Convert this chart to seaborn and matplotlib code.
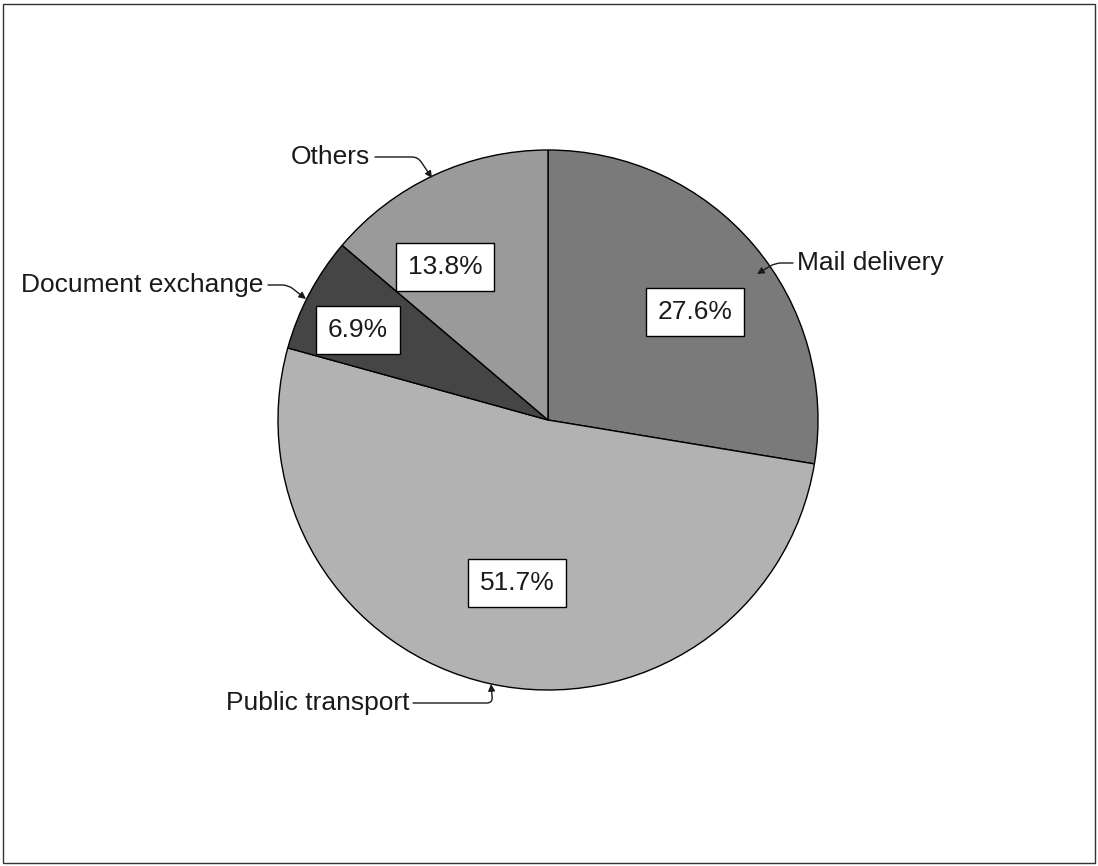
import matplotlib
matplotlib.use("Agg")
import matplotlib.pyplot as plt
import matplotlib.patches as mpatches
import seaborn as sns

categories = ["Mail delivery", "Public transport", "Document exchange", "Others"]
values = [27.6, 51.7, 6.9, 13.8]
pct_labels = ["27.6%", "51.7%", "6.9%", "13.8%"]
colors = ["#7a7a7a", "#b2b2b2", "#454545", "#9a9a9a"]

sns.set_theme(style="white")
plt.rcParams["font.family"] = ["Liberation Sans", "DejaVu Sans"]

W, H = 1098, 866
fig = plt.figure(figsize=(W / 100, H / 100), dpi=100)
ax = fig.add_axes([0, 0, 1, 1])
ax.set_xlim(0, W)
ax.set_ylim(0, H)
ax.set_aspect("equal")
ax.axis("off")

cx, cy, r = 548, H - 420, 270
wedges, _ = ax.pie(values, colors=colors, startangle=90, counterclock=False,
                   center=(cx, cy), radius=r,
                   wedgeprops=dict(edgecolor="black", linewidth=1.0))
ax.set_xlim(0, W)
ax.set_ylim(0, H)

fs = 19
box = dict(boxstyle="square,pad=0.44", facecolor="white", edgecolor="black", linewidth=1.0)
pct_pos = [(695, 312), (517, 583), (358, 330), (445, 267)]
for lab, (x, y) in zip(pct_labels, pct_pos):
    ax.text(x, H - y, lab, ha="center", va="center", fontsize=fs, color="#1a1a1a", bbox=box)

# outer labels with leader arrows
outer = {
    "Others": dict(text=(291, 157), ha="left", start=375, tip=(432, 178), angB=124),
    "Mail delivery": dict(text=(797, 263), ha="left", start=793, tip=(757, 274), angB=31),
    "Document exchange": dict(text=(263, 285), ha="right", start=268, tip=(306, 299), angB=142),
    "Public transport": dict(text=(410, 703), ha="right", start=413, tip=(491, 684), angB=95),
}
for name in categories:
    o = outer[name]
    tx, ty = o["text"]
    ax.text(tx, H - ty, name, ha=o["ha"], va="center", fontsize=fs, color="#1a1a1a")
    ax.annotate("", xy=(o["tip"][0], H - o["tip"][1]), xytext=(o["start"], H - ty),
                arrowprops=dict(arrowstyle="-|>", color="#1a1a1a", lw=1.0,
                                mutation_scale=10, shrinkA=0, shrinkB=0,
                                connectionstyle=f"angle,angleA=0,angleB={o['angB']},rad=6"))

fig.add_artist(mpatches.Rectangle((3 / W, 3 / H), (W - 6) / W, (H - 7) / H,
                                  transform=fig.transFigure, fill=False,
                                  edgecolor="#333333", linewidth=1.0))

fig.savefig("out.png", dpi=100, facecolor="white")
